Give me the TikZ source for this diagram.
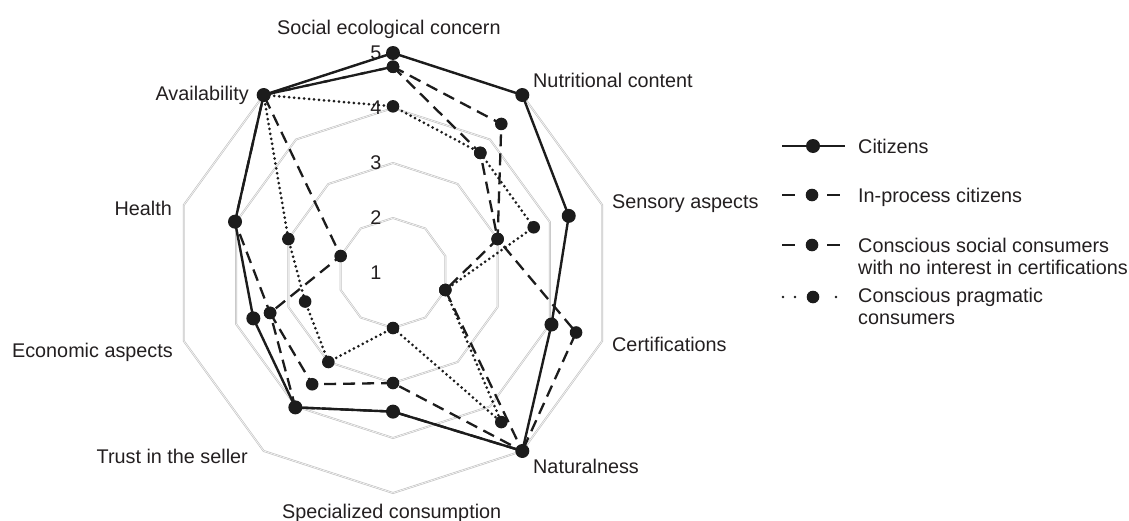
\documentclass[tikz,border=0pt]{standalone}
\usepackage{fontspec}
\setmainfont{Liberation Sans}
\definecolor{linec}{RGB}{28,28,28}
\definecolor{txtc}{RGB}{35,31,32}
\definecolor{gridc}{RGB}{195,195,195}
\newcommand\defseries[2]{%
  \foreach \val [count=\i] in {#2} {\coordinate (#1\i) at ({126-36*\i}:{(\val-1)*55});}}
\begin{document}
\begin{tikzpicture}[x=1pt,y=1pt,
  lbl/.style={font=\fontsize{19.8}{22}\selectfont, text=txtc, inner sep=0pt},
  gridring/.style={draw=gridc, line width=0.7pt, double=white, double distance=0.5pt},
  citline/.style={draw=linec, line width=2.4pt, line join=round},
  dashline/.style={draw=linec, line width=2.3pt, dash pattern=on 12pt off 7pt},
  dotline/.style={draw=linec, line width=3pt, line cap=round, dash pattern=on 0pt off 5pt},
  legdash/.style={draw=linec, line width=2.4pt, dash pattern=on 13pt off 32pt},
  legdot/.style={draw=linec, line width=2.8pt, line cap=round, dash pattern=on 0pt off 12pt},
]
\useasboundingbox (-393,-247) rectangle (736,273);

% grid rings (values 2..5)
\foreach \v in {2,3,4,5}{
  \pgfmathsetmacro\r{(\v-1)*55}
  \draw[gridring] (90:\r) \foreach \a in {54,18,-18,-54,-90,-126,-162,-198,-234}{ -- (\a:\r)} -- cycle;
}

% scale numbers
\foreach \v in {1,...,5} \node[lbl] (num\v) at (-17,{(\v-1)*55}) {\v};

% data series
\defseries{ci}{5,5,4.36,4.03,5,3.52,4.02,3.67,4.02,5}
\defseries{ip}{4.75,4.35,3.0,4.5,5,3.52,4.02,3.35,4.02,5}
\defseries{cs}{4.75,3.7,3.0,2.0,5,3.0,3.5,3.35,2.0,5}
\defseries{cp}{4.03,3.7,3.69,2.0,4.35,2.0,3.0,2.68,3.0,5}

\draw[dotline] (cp1) -- (cp2) -- (cp3) -- (cp4) -- (cp5) -- (cp6) -- (cp7) -- (cp8) -- (cp9) -- (cp10) -- cycle;
\draw[dashline] (cs1) -- (cs2) -- (cs3) -- (cs4) -- (cs5) -- (cs6) -- (cs7) -- (cs8) -- (cs9) -- (cs10) -- cycle;
\draw[dashline] (ip1) -- (ip2) -- (ip3) -- (ip4) -- (ip5) -- (ip6) -- (ip7) -- (ip8) -- (ip9) -- (ip10) -- cycle;
\draw[citline] (ci1) -- (ci2) -- (ci3) -- (ci4) -- (ci5) -- (ci6) -- (ci7) -- (ci8) -- (ci9) -- (ci10) -- cycle;

\foreach \s in {cp,cs,ip}{\foreach \i in {1,...,10} \fill[linec] (\s\i) circle (6.3pt);}
\foreach \i in {1,...,10} \fill[linec] (ci\i) circle (7pt);

% axis labels
\node[lbl, anchor=base west] (lab1) at (-116,238) {Social ecological concern};
\node[lbl, anchor=base west] (lab2) at (140,186) {Nutritional content};
\node[lbl, anchor=base west] (lab3) at (219,65) {Sensory aspects};
\node[lbl, anchor=base west] (lab4) at (219,-78) {Certifications};
\node[lbl, anchor=base west] (lab5) at (140,-200) {Naturalness};
\node[lbl, anchor=base west] (lab6) at (-111,-245) {Specialized consumption};
\node[lbl, anchor=base east] (lab7) at (-145,-190) {Trust in the seller};
\node[lbl, anchor=base east] (lab8) at (-220,-84) {Economic aspects};
\node[lbl, anchor=base east] (lab9) at (-221,58) {Health};
\node[lbl, anchor=base east] (lab10) at (-144,173) {Availability};

% legend
\coordinate (lgA1) at (389,127); \coordinate (lgB1) at (452,127);
\draw[citline] (lgA1) -- (lgB1);
\fill[linec] (420,127) circle (7pt);
\node[lbl, anchor=base west] (leg1) at (465,120) {Citizens};

\coordinate (lgA2) at (389,78); \coordinate (lgB2) at (448,78);
\draw[legdash] (lgA2) -- (lgB2);
\fill[linec] (419,78) circle (6.3pt);
\node[lbl, anchor=base west] (leg2) at (465,71) {In-process citizens};

\coordinate (lgA3) at (389,28); \coordinate (lgB3) at (448,28);
\draw[legdash] (lgA3) -- (lgB3);
\fill[linec] (419,28) circle (6.3pt);
\node[lbl, anchor=base west, align=left] (leg3) at (465,-1) {Conscious social consumers\\with no interest in certifications};

\coordinate (lgA4) at (390,-24); \coordinate (lgB4) at (402,-24);
\coordinate (lgC4) at (443,-24); \coordinate (lgD4) at (455,-24);
\draw[legdot] (lgA4) -- (lgB4);
\draw[legdot] (lgC4) -- (lgD4);
\fill[linec] (420,-24) circle (6.3pt);
\node[lbl, anchor=base west, align=left] (leg4) at (465,-51) {Conscious pragmatic\\consumers};
\end{tikzpicture}
\end{document}
